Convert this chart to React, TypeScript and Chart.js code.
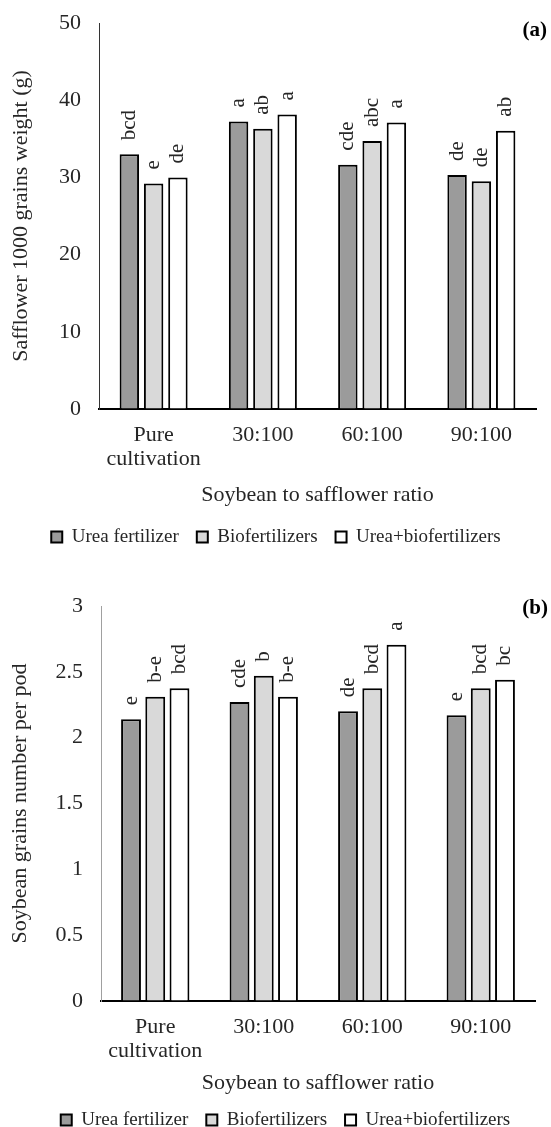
import React, { useEffect, useRef } from 'react';
import { Chart, registerables } from 'chart.js';
Chart.register(...registerables);

const FONT = "'Liberation Serif', 'Times New Roman', serif";
const TXT = '#262626';

const categories: (string | string[])[] = [['Pure', 'cultivation'], '30:100', '60:100', '90:100'];
const seriesNames = ['Urea fertilizer', 'Biofertilizers', 'Urea+biofertilizers'];
const seriesColors = ['#9b9b9b', '#d9d9d9', '#ffffff'];

// (a) Safflower 1000 grains weight (g)
const safflowerUrea = [33.0, 37.25, 31.65, 30.3];
const safflowerBio = [29.2, 36.3, 34.7, 29.5];
const safflowerBoth = [30.0, 38.15, 37.1, 36.05];
const safflowerLetters = [
  ['bcd', 'a', 'cde', 'de'],
  ['e', 'ab', 'abc', 'de'],
  ['de', 'a', 'a', 'ab'],
];

// (b) Soybean grains number per pod
const soyUrea = [2.14, 2.27, 2.2, 2.17];
const soyBio = [2.31, 2.47, 2.375, 2.375];
const soyBoth = [2.375, 2.31, 2.705, 2.44];
const soyLetters = [
  ['e', 'cde', 'de', 'e'],
  ['b-e', 'b', 'bcd', 'bcd'],
  ['bcd', 'b-e', 'a', 'bc'],
];

const lettersPlugin = {
  id: 'letters',
  afterDatasetsDraw(chart: any, _args: any, opts: any) {
    const ctx = chart.ctx;
    ctx.save();
    ctx.font = `21px ${FONT}`;
    ctx.fillStyle = TXT;
    ctx.textAlign = 'left';
    ctx.textBaseline = 'middle';
    (opts.letters as string[][]).forEach((arr, di) => {
      const meta = chart.getDatasetMeta(di);
      meta.data.forEach((bar: any, i: number) => {
        ctx.save();
        ctx.translate(bar.x, bar.y - opts.gap);
        ctx.rotate(-Math.PI / 2);
        ctx.fillText(arr[i], 0, 0);
        ctx.restore();
      });
    });
    ctx.font = `bold 21px ${FONT}`;
    ctx.textAlign = 'right';
    ctx.fillStyle = '#000';
    ctx.fillText(opts.tag, chart.chartArea.right + opts.tagDx, chart.chartArea.top + opts.tagDy);
    ctx.restore();
  },
};

type Cfg = {
  values: number[][];
  letters: string[][];
  yMax: number;
  step: number;
  yTitle: string;
  yAxisColor: string;
  padding: { top: number; left: number; right: number; bottom: number };
  yWidth: number;
  yTitlePad: number;
  xHeight: number;
  xTitlePad: number;
  catPct: number;
  barPct: number;
  tag: string;
  tagDx: number;
  tagDy: number;
};

function makeConfig(c: Cfg): any {
  return {
    type: 'bar',
    data: {
      labels: categories,
      datasets: seriesNames.map((name, i) => ({
        label: name,
        data: c.values[i],
        backgroundColor: seriesColors[i],
        borderColor: '#000',
        borderWidth: 2,
        categoryPercentage: c.catPct,
        barPercentage: c.barPct,
      })),
    },
    options: {
      responsive: false,
      animation: false,
      devicePixelRatio: 1,
      layout: { padding: c.padding },
      plugins: {
        legend: {
          position: 'bottom',
          labels: {
            boxWidth: 11,
            boxHeight: 11,
            padding: 18,
            color: TXT,
            font: { family: FONT, size: 19 },
          },
        },
        tooltip: { enabled: false },
        letters: { letters: c.letters, gap: 14, tag: c.tag, tagDx: c.tagDx, tagDy: c.tagDy },
      },
      scales: {
        x: {
          ticks: {
            padding: 14,
            color: TXT,
            font: { family: FONT, size: 22, lineHeight: 1.1 },
            maxRotation: 0,
            autoSkip: false,
          },
          grid: { display: false, drawTicks: false },
          border: { display: true, color: '#000', width: 2 },
          title: {
            display: true,
            text: 'Soybean to safflower ratio',
            color: TXT,
            font: { family: FONT, size: 22 },
            padding: { top: 0, bottom: c.xTitlePad },
          },
          afterFit: (s: any) => {
            s.height = c.xHeight;
          },
        },
        y: {
          min: 0,
          max: c.yMax,
          ticks: {
            stepSize: c.step,
            padding: 5,
            color: TXT,
            font: { family: FONT, size: 22 },
            callback: (v: any) => String(Number(v)),
          },
          grid: {
            display: true,
            drawOnChartArea: false,
            drawTicks: true,
            tickLength: 13,
            color: 'rgba(0,0,0,0)',
          },
          border: { display: true, color: c.yAxisColor, width: 1 },
          title: {
            display: true,
            text: c.yTitle,
            color: TXT,
            font: { family: FONT, size: 22 },
            padding: { top: c.yTitlePad, bottom: 0 },
          },
          afterFit: (s: any) => {
            s.width = c.yWidth;
          },
        },
      },
    },
    plugins: [lettersPlugin],
  };
}

const cfgA: Cfg = {
  values: [safflowerUrea, safflowerBio, safflowerBoth],
  letters: safflowerLetters,
  yMax: 50,
  step: 10,
  yTitle: 'Safflower 1000 grains weight (g)',
  yAxisColor: '#333333',
  padding: { top: 23, left: 16, right: 15, bottom: 10.5 },
  yWidth: 83,
  yTitlePad: -8,
  xHeight: 100.5,
  xTitlePad: 1.3,
  catPct: 0.667,
  barPct: 0.8,
  tag: '(a)',
  tagDx: 11,
  tagDy: 8,
};

const cfgB: Cfg = {
  values: [soyUrea, soyBio, soyBoth],
  letters: soyLetters,
  yMax: 3,
  step: 0.5,
  yTitle: 'Soybean grains number per pod',
  yAxisColor: '#a0a0a0',
  padding: { top: 39, left: 36, right: 16, bottom: 0.5 },
  yWidth: 65,
  yTitlePad: -29,
  xHeight: 91.5,
  xTitlePad: -3.7,
  catPct: 0.67,
  barPct: 0.82,
  tag: '(b)',
  tagDx: 13,
  tagDy: 3,
};

function BarPanel({ cfg, height }: { cfg: Cfg; height: number }) {
  const ref = useRef<HTMLCanvasElement | null>(null);
  useEffect(() => {
    if (!ref.current) return;
    const chart = new Chart(ref.current, makeConfig(cfg));
    return () => chart.destroy();
  }, [cfg]);
  return (
    <div style={{ width: 551, height, position: 'relative' }}>
      <canvas ref={ref} width={551} height={height} style={{ display: 'block', width: 551, height }} />
    </div>
  );
}

export default function App() {
  useEffect(() => {
    document.body.style.margin = '0';
    document.body.style.background = '#ffffff';
  }, []);
  return (
    <div style={{ width: 551, height: 1127, overflow: 'hidden', background: '#fff' }}>
      <BarPanel cfg={cfgA} height={567} />
      <BarPanel cfg={cfgB} height={573} />
    </div>
  );
}
